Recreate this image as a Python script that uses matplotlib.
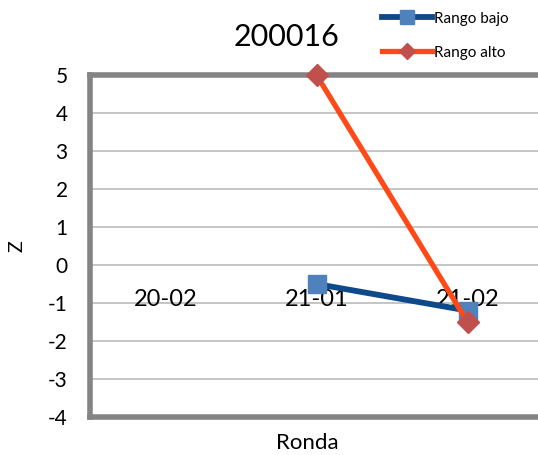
import matplotlib
matplotlib.use("Agg")
import matplotlib.pyplot as plt
import numpy as np

plt.rcParams['font.family'] = ['Lato', 'DejaVu Sans']

categories = ["20-02", "21-01", "21-02"]
rango_bajo = [np.nan, -0.5, -1.2]
rango_alto = [np.nan, 5.0, -1.5]
yticks = list(range(-4, 6))
title = "200016"

W, H = 538, 455
fig = plt.figure(figsize=(W / 100, H / 100), dpi=100)
left, right, top, bottom = 90, 543, 75, 417
ax = fig.add_axes([left / W, 1 - bottom / H, (right - left) / W, (bottom - top) / H])

x = np.arange(len(categories))
ax.set_xlim(-0.5, len(categories) - 0.5)
ax.set_ylim(-4, 5)

for y in yticks[1:-1]:
    ax.axhline(y, color="#C0C0C0", lw=1.3, zorder=1)

lb, = ax.plot(x, rango_bajo, color="#0E4A8A", lw=4.2, marker="s", markersize=13,
              markerfacecolor="#4F81BD", markeredgecolor="#4F81BD", zorder=3,
              label="Rango bajo", clip_on=False)
la, = ax.plot(x, rango_alto, color="#FF4A17", lw=3.8, marker="D", markersize=11,
              markerfacecolor="#C0504D", markeredgecolor="#C0504D", zorder=4,
              label="Rango alto", clip_on=False)

for xi, c in zip(x, categories):
    ax.text(xi, -0.9, c, ha="center", va="center", fontsize=17, zorder=2)

ax.set_xticks([])
ax.set_yticks(yticks)
ax.set_yticklabels([str(v) for v in yticks], fontsize=15)
ax.tick_params(axis="y", length=0, pad=16)

for s in ["left", "bottom", "top"]:
    ax.spines[s].set_color("#848484")
    ax.spines[s].set_linewidth(4)
    ax.spines[s].set_zorder(2.5)
ax.spines["right"].set_visible(False)

ax.set_ylabel("Z", fontsize=14, labelpad=16)
fig.text(307 / W, 1 - 443 / H, "Ronda", ha="center", va="center", fontsize=16)
fig.text(287 / W, 1 - 37 / H, title, ha="center", va="center", fontsize=22)

leg = fig.legend(handles=[lb, la], loc="upper left", bbox_to_anchor=(368 / W, 1 + 2 / H),
                 frameon=False, fontsize=11, handlelength=3.3, labelspacing=1.3,
                 handletextpad=0.1, markerscale=0.75)

fig.savefig("out.png", dpi=100)
